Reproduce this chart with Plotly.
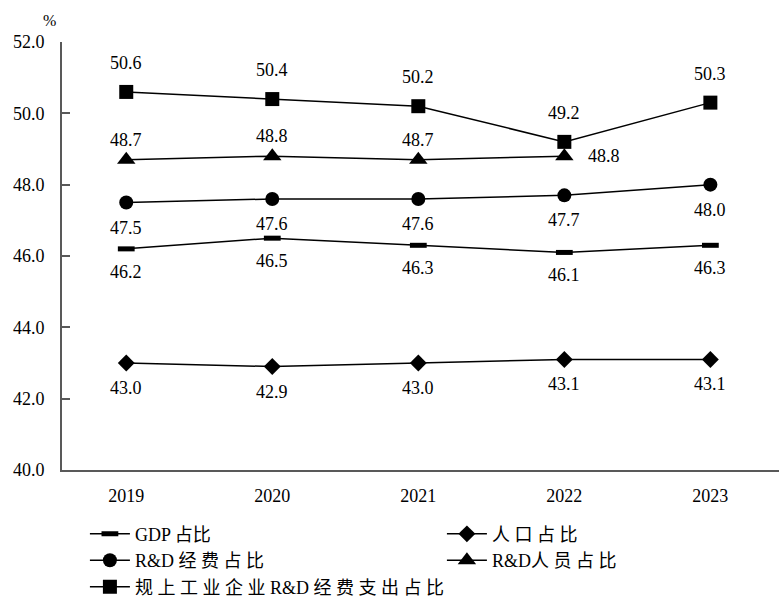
import plotly.graph_objects as go

years = ["2019", "2020", "2021", "2022", "2023"]
gdp = [46.2, 46.5, 46.3, 46.1, 46.3]
pop = [43.0, 42.9, 43.0, 43.1, 43.1]
rd_exp = [47.5, 47.6, 47.6, 47.7, 48.0]
rd_staff = [48.7, 48.8, 48.7, 48.8, None]
ind_rd = [50.6, 50.4, 50.2, 49.2, 50.3]

legend_names = ["GDP 占比", "人 口 占 比", "R&D 经 费 占 比", "R&D人 员 占 比", "规 上 工 业 企 业 R&D 经 费 支 出 占 比"]

FONT = "Liberation Serif, Noto Sans CJK SC, serif"
series = [
    (gdp, "line-ew", 12, -23),
    (pop, "diamond", 13, -25),
    (rd_exp, "circle", 14, -25),
    (rd_staff, "triangle-up", 16, 20),
    (ind_rd, "square", 14, 29),
]

fig = go.Figure()
for i, (vals, sym, sz, ysh) in enumerate(series):
    marker = dict(symbol=sym, size=sz, color="black",
                  line=dict(color="black", width=5 if sym == "line-ew" else 0))
    fig.add_trace(go.Scatter(
        x=years, y=vals, mode="lines+markers", name=legend_names[i],
        line=dict(color="black", width=1.5), marker=marker,
    ))
    for j, v in enumerate(vals):
        if v is None:
            continue
        dx, dy = 0, ysh
        if i == 3 and j == 3:
            dx, dy = 40, 0
        fig.add_annotation(x=j, y=v, text=f"{v:.1f}", showarrow=False,
                           xshift=dx, yshift=dy, font=dict(family=FONT, size=18, color="black"))

fig.add_annotation(xref="paper", yref="paper", x=-0.005, y=1.0, yshift=22, text="%", showarrow=False,
                   xanchor="right", yanchor="middle", font=dict(family=FONT, size=16, color="black"))

fig.update_layout(
    width=779, height=601,
    margin=dict(l=62, r=0, t=42, b=131),
    plot_bgcolor="white", paper_bgcolor="white",
    font=dict(family=FONT, size=18, color="black"),
    showlegend=True,
    legend=dict(orientation="h", x=0.109, xref="container", y=0.142, yref="container",
                xanchor="left", yanchor="top",
                entrywidth=302, entrywidthmode="pixels", tracegroupgap=0,
                font=dict(family=FONT, size=18, color="black"), itemwidth=40),
    xaxis=dict(type="category", range=[-0.44, 4.47], showline=True, linecolor="#595959", linewidth=2,
               ticks="", showgrid=False, zeroline=False, ticklabelstandoff=8,
               tickfont=dict(family=FONT, size=18)),
    yaxis=dict(range=[40, 52], dtick=2, tickformat=".1f", showline=True, linecolor="#595959", linewidth=2,
               ticks="inside", ticklen=8, tickcolor="#595959", tickwidth=2, ticklabelstandoff=12,
               showgrid=False, zeroline=False, tickfont=dict(family=FONT, size=18)),
)

fig.write_html("out.html")
